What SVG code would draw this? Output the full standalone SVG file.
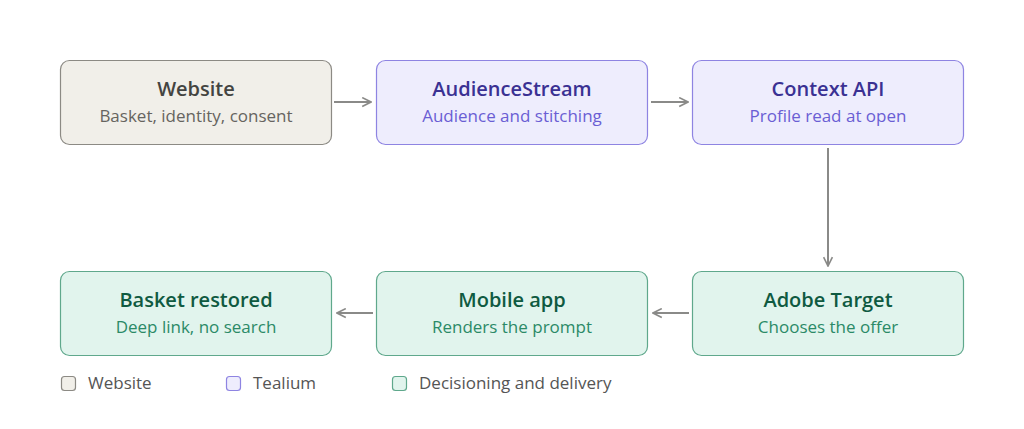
<svg xmlns="http://www.w3.org/2000/svg" width="1024" height="429" viewBox="0 0 1024 429">
<style>
.t{font-family:"Open Sans","Noto Sans",sans-serif;font-size:20px;font-weight:600;text-anchor:middle}
.s{font-family:"Open Sans","Noto Sans",sans-serif;font-size:17px;text-anchor:middle}
.l{font-family:"Open Sans","Noto Sans",sans-serif;font-size:17px;fill:#555}
.web rect{fill:#f1efe9;stroke:#8c8a84;stroke-width:1.2}
.web .t{fill:#444441}.web .s{fill:#66645f}
.tea rect{fill:#eeedfd;stroke:#8e84e2;stroke-width:1.2}
.tea .t{fill:#3a3193}.tea .s{fill:#6a5ed4}
.dec rect{fill:#e1f4ed;stroke:#5fa88c;stroke-width:1.2}
.dec .t{fill:#0f5a41}.dec .s{fill:#2b8a67}
.c line{stroke:#8a8a88;stroke-width:2;fill:none;marker-end:url(#a)}
</style>
<defs>
<marker id="a" viewBox="0 0 10 10" refX="9" refY="5" markerWidth="11" markerHeight="11" markerUnits="userSpaceOnUse" orient="auto"><path d="M1,1 L9,5 L1,9" fill="none" stroke="#8a8a88" stroke-width="1.5"/></marker>
</defs>
<rect width="1024" height="429" fill="#fff"/>
<g class="c">
<line x1="334" y1="102" x2="371" y2="102"/>
<line x1="651" y1="102" x2="688" y2="102"/>
<line x1="828" y1="148" x2="828" y2="266"/>
<line x1="689" y1="313" x2="653" y2="313"/>
<line x1="373" y1="313" x2="337" y2="313"/>
</g>
<g id="website" class="web"><rect x="60.5" y="60.5" width="271" height="84" rx="9"/><text class="t" x="196" y="96">Website</text><text class="s" x="196" y="122">Basket, identity, consent</text></g>
<g id="audiencestream" class="tea"><rect x="376.5" y="60.5" width="271" height="84" rx="9"/><text class="t" x="512" y="96">AudienceStream</text><text class="s" x="512" y="122">Audience and stitching</text></g>
<g id="contextapi" class="tea"><rect x="692.5" y="60.5" width="271" height="84" rx="9"/><text class="t" x="828" y="96">Context API</text><text class="s" x="828" y="122">Profile read at open</text></g>
<g id="adobetarget" class="dec"><rect x="692.5" y="271.5" width="271" height="84" rx="9"/><text class="t" x="828" y="307">Adobe Target</text><text class="s" x="828" y="333">Chooses the offer</text></g>
<g id="mobileapp" class="dec"><rect x="376.5" y="271.5" width="271" height="84" rx="9"/><text class="t" x="512" y="307">Mobile app</text><text class="s" x="512" y="333">Renders the prompt</text></g>
<g id="basketrestored" class="dec"><rect x="60.5" y="271.5" width="271" height="84" rx="9"/><text class="t" x="196" y="307">Basket restored</text><text class="s" x="196" y="333">Deep link, no search</text></g>
<g id="legend">
<g class="web"><rect x="61.5" y="376.5" width="14" height="14" rx="3"/></g><text class="l" x="88" y="389">Website</text>
<g class="tea"><rect x="226.5" y="376.5" width="14" height="14" rx="3"/></g><text class="l" x="253" y="389">Tealium</text>
<g class="dec"><rect x="392.5" y="376.5" width="14" height="14" rx="3"/></g><text class="l" x="419" y="389">Decisioning and delivery</text>
</g>
</svg>
